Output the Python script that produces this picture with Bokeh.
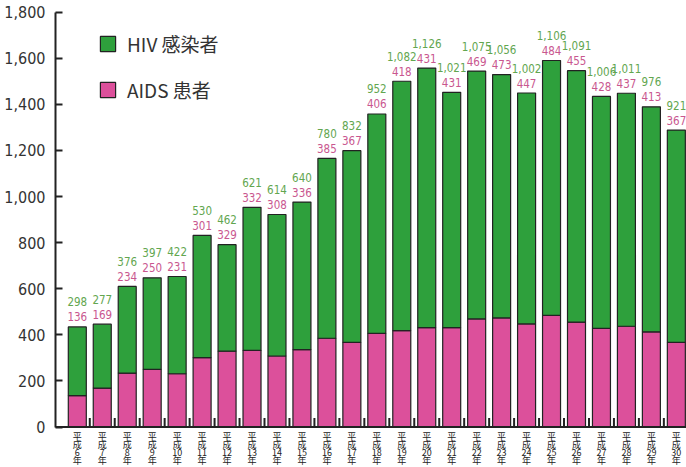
from bokeh.plotting import figure
from bokeh.models import (Range1d, Span, Legend, LegendItem, FixedTicker,
                          NumeralTickFormatter, ColumnDataSource)
from bokeh.core.properties import value
from bokeh.embed import file_html
from bokeh.resources import INLINE

# ---- data ----
years = ["6", "7", "8", "9", "10", "11", "12", "13", "14", "15", "16", "17",
         "18", "19", "20", "21", "22", "23", "24", "25", "26", "27", "28",
         "29", "30"]
hiv = [298, 277, 376, 397, 422, 530, 462, 621, 614, 640, 780, 832, 952,
       1082, 1126, 1021, 1075, 1056, 1002, 1106, 1091, 1006, 1011, 976, 921]
aids = [136, 169, 234, 250, 231, 301, 329, 332, 308, 336, 385, 367, 406,
        418, 431, 431, 469, 473, 447, 484, 455, 428, 437, 413, 367]
y_ticks = [0, 200, 400, 600, 800, 1000, 1200, 1400, 1600, 1800]
legend_labels = ["HIV 感染者", "AIDS 患者"]
era_chars = ["平", "成", None, "年"]   # None -> the year number

GREEN = "#2ea03c"
PINK = "#dc509b"
GREEN_TXT = "#62a64f"
PINK_TXT = "#c9578f"
DARK = "#222222"
COND = "DejaVu Sans Condensed"
CJK = "Noto Sans CJK JP"

xs = list(range(len(years)))
total = [h + a for h, a in zip(hiv, aids)]
src = ColumnDataSource(dict(
    x=xs, hiv=hiv, aids=aids, total=total,
    hiv_lbl=[f"{v:,}" for v in hiv],
    aids_lbl=[f"{v:,}" for v in aids],
))

W, H = 686, 467
ppu = 0.2305            # pixels per y unit
base_px = 426.5         # screen row of y = 0
x_unit = 24.96          # pixels per bar slot
frame_left = 55
first_center = 76.8
x_start = -(first_center - frame_left) / x_unit
x_end = x_start + (W - frame_left) / x_unit
y_start = -(H - base_px) / ppu
y_end = y_start + H / ppu

p = figure(width=W, height=H, output_backend="svg", toolbar_location=None,
           x_range=Range1d(x_start, x_end), y_range=Range1d(y_start, y_end),
           x_axis_type=None, min_border_left=frame_left, min_border_right=0,
           min_border_top=0, min_border_bottom=0)
p.outline_line_color = None
p.xgrid.visible = False
p.ygrid.visible = False
p.background_fill_color = "white"
p.border_fill_color = "white"

# y axis
ya = p.yaxis[0]
ya.ticker = FixedTicker(ticks=y_ticks)
ya.formatter = NumeralTickFormatter(format="0,0")
ya.bounds = (0, 1800)
ya.axis_line_color = DARK
ya.axis_line_width = 2
ya.major_tick_in = 7
ya.major_tick_out = 0
ya.major_tick_line_color = DARK
ya.major_tick_line_width = 2
ya.minor_tick_line_color = None
ya.major_label_text_font = COND
ya.major_label_text_font_size = "16px"
ya.major_label_text_color = "#333333"
ya.major_label_standoff = 10

# baseline
p.add_layout(Span(location=0, dimension="width", line_color=DARK, line_width=2))

# bars
bw = 18 / x_unit
r_aids = p.vbar(x="x", bottom=0, top="aids", width=bw, source=src,
                fill_color=PINK, line_color=DARK, line_width=1.2)
r_hiv = p.vbar(x="x", bottom="aids", top="total", width=bw, source=src,
               fill_color=GREEN, line_color=DARK, line_width=1.2)

# small ticks between bars
mids = [i + 0.5 for i in xs[:-1]]
p.segment(x0=mids, y0=[0] * len(mids), x1=mids, y1=[9 / ppu] * len(mids),
          line_color=DARK, line_width=2)

# value labels
p.text(x="x", y="total", text="aids_lbl", source=src, y_offset=-10,
       text_align="center", text_baseline="middle",
       text_font=value(COND), text_font_size="11.5px", text_color=PINK_TXT)
p.text(x="x", y="total", text="hiv_lbl", source=src, y_offset=-25,
       text_align="center", text_baseline="middle",
       text_font=value(COND), text_font_size="11.5px", text_color=GREEN_TXT)

# category labels, one character per row
for k, ch in enumerate(era_chars):
    row = [y if ch is None else ch for y in years]
    p.text(x=xs, y=[0] * len(xs), text=row, y_offset=9.0 + k * 8.0,
           text_align="center", text_baseline="middle",
           text_font=value(CJK), text_font_size="9px",
           text_color="#222222")

legend = Legend(items=[LegendItem(label=legend_labels[0], renderers=[r_hiv]),
                       LegendItem(label=legend_labels[1], renderers=[r_aids])],
                location=(43, 364), orientation="vertical",
                glyph_width=19, glyph_height=19, label_height=19,
                spacing=19, padding=0, margin=0,
                border_line_color=None, background_fill_alpha=0,
                label_text_font=CJK, label_text_font_size="19px",
                label_standoff=10, label_text_color="#333333")
p.add_layout(legend)

open("out.html", "w").write(file_html(p, INLINE))
